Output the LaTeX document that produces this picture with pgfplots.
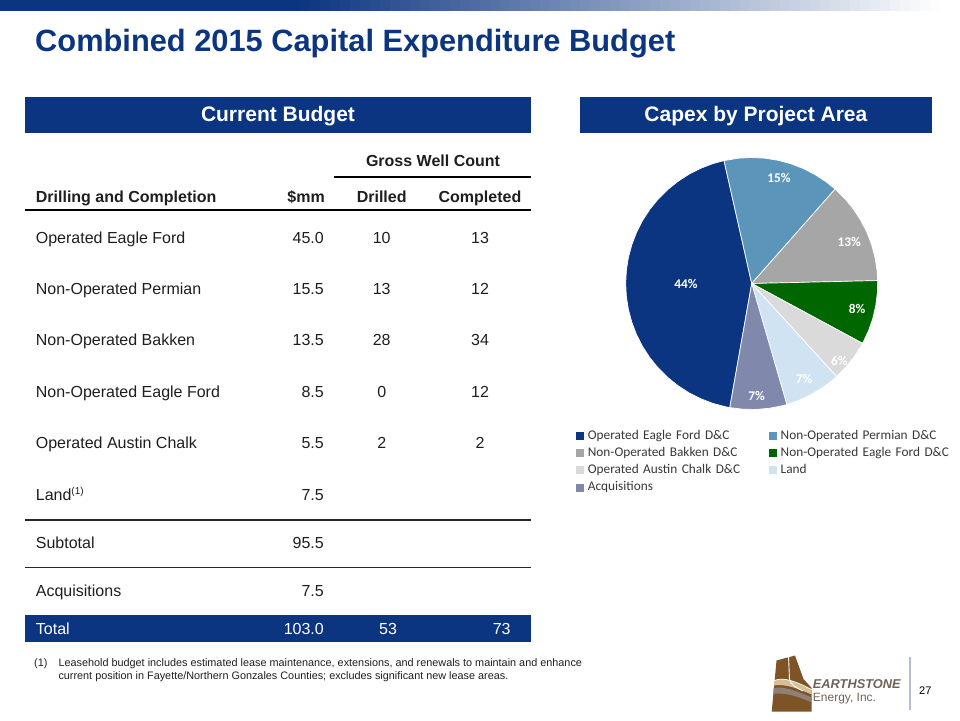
\documentclass[border=0pt]{standalone}
\usepackage{pgfplots}
\pgfplotsset{compat=1.18}
\usepgfplotslibrary{polar}
\usepackage{fontspec}
\setmainfont{Liberation Sans}
\newfontfamily\carlito{Carlito}
\definecolor{navy}{RGB}{11,53,128}
\definecolor{cperm}{RGB}{91,150,186}
\definecolor{cbak}{RGB}{166,166,166}
\definecolor{cgreen}{RGB}{0,102,0}
\definecolor{caus}{RGB}{218,218,218}
\definecolor{cland}{RGB}{208,227,243}
\definecolor{cacq}{RGB}{128,137,172}
\definecolor{tbltext}{RGB}{30,30,30}
\definecolor{legtext}{RGB}{55,55,55}
\definecolor{logobrown}{RGB}{125,84,40}
\definecolor{logotan}{RGB}{216,190,148}
\definecolor{logogray}{RGB}{142,128,116}
\definecolor{logotext}{RGB}{110,98,90}
\definecolor{sepline}{RGB}{184,188,208}
\newcommand{\fs}[1]{\fontsize{#1}{#1}\selectfont}
\begin{document}
\begin{tikzpicture}
\useasboundingbox (0pt,0pt) rectangle (960pt,-720pt);
\begin{scope}[x=1pt,y=-1pt,
  tl/.style={anchor=base west, inner sep=0pt, text=tbltext, font=\fs{16}},
  tr/.style={anchor=base east, inner sep=0pt, text=tbltext, font=\fs{16}},
  tc/.style={anchor=base, inner sep=0pt, text=tbltext, font=\fs{16}}]
% top bar (solid, then fading to white)
\fill[navy] (0,0) rectangle (300.5,11);
\foreach \i in {0,...,63} {
  \pgfmathsetmacro\p{100-(\i+0.5)*100/64}
  \fill[navy!\p!white] ({300+\i*10},0) rectangle ({300+(\i+1)*10+0.4},11);
}
% title
\node[anchor=base west, inner sep=0pt, text=navy, font=\bfseries\fs{30.8}] at (35,51.7) {Combined 2015 Capital Expenditure Budget};
% header boxes
\fill[navy] (25,96.7) rectangle (531,132.5);
\node[anchor=base, inner sep=0pt, text=white, font=\bfseries\fs{21}] at (278,121.7) {Current Budget};
\fill[navy] (580,96.7) rectangle (931.7,132.5);
\node[anchor=base, inner sep=0pt, text=white, font=\bfseries\fs{21}] at (755.9,121.7) {Capex by Project Area};
% table header
\node[tc, font=\bfseries\fs{16}] at (433,166) {Gross Well Count};
\draw[black, line width=1.3pt] (334,177) -- (531,177);
\node[tl, font=\bfseries\fs{16}] at (35.7,202) {Drilling and Completion};
\node[tr, font=\bfseries\fs{16}] at (325,202) {\$mm};
\node[tc, font=\bfseries\fs{16}] at (381.7,202) {Drilled};
\node[tc, font=\bfseries\fs{16}] at (480,202) {Completed};
\draw[black, line width=1.5pt] (25,210) -- (531,210);
% rows
\node[tl] at (35.7,243) {Operated Eagle Ford};     \node[tr] at (324,243) {45.0}; \node[tc] at (381.7,243) {10}; \node[tc] at (480,243) {13};
\node[tl] at (35.7,294.4) {Non-Operated Permian};  \node[tr] at (324,294.4) {15.5}; \node[tc] at (381.7,294.4) {13}; \node[tc] at (480,294.4) {12};
\node[tl] at (35.7,345.8) {Non-Operated Bakken};   \node[tr] at (324,345.8) {13.5}; \node[tc] at (381.7,345.8) {28}; \node[tc] at (480,345.8) {34};
\node[tl] at (35.7,397.2) {Non-Operated Eagle Ford}; \node[tr] at (324,397.2) {8.5}; \node[tc] at (381.7,397.2) {0}; \node[tc] at (480,397.2) {12};
\node[tl] at (35.7,448.6) {Operated Austin Chalk}; \node[tr] at (324,448.6) {5.5}; \node[tc] at (381.7,448.6) {2}; \node[tc] at (480,448.6) {2};
\node[tl] at (35.7,500) {Land{\fs{10}\raisebox{6pt}{(1)}}}; \node[tr] at (324,500) {7.5};
\draw[black!85, line width=1.3pt] (25,520) -- (531,520);
\node[tl] at (35.7,548.3) {Subtotal}; \node[tr] at (324,548.3) {95.5};
\draw[black!85, line width=1.3pt] (25,567.3) -- (531,567.3);
\node[tl] at (35.7,596.7) {Acquisitions}; \node[tr] at (324,596.7) {7.5};
\fill[navy] (25,615) rectangle (531,642);
\node[tl, text=white] at (35.7,634.5) {Total}; \node[tr, text=white] at (324,634.5) {103.0};
\node[tc, text=white] at (388,634.5) {53}; \node[tc, text=white] at (501.7,634.5) {73};
% footnote
\node[anchor=base west, inner sep=0pt, text=tbltext, font=\fs{10.85}] at (34,666) {(1)};
\node[anchor=base west, inner sep=0pt, text=tbltext, font=\fs{10.85}] at (58.3,666) {Leasehold budget includes estimated lease maintenance, extensions, and renewals to maintain and enhance};
\node[anchor=base west, inner sep=0pt, text=tbltext, font=\fs{10.85}] at (58.3,679.5) {current position in Fayette/Northern Gonzales Counties; excludes significant new lease areas.};
% logo
\fill[logobrown] (771.7,711.7) -- (776.5,660.5) -- (795,655.5) -- (803.5,679) -- (811.7,688) -- (811.7,711.7) -- cycle;
\fill[logotan] (774.3,680.5) .. controls (784,676.5) and (797,682) .. (811.7,689.5) -- (811.7,694.5) .. controls (797,688) and (784,683.5) .. (773.9,685.5) -- cycle;
\fill[logogray] (773.7,688) .. controls (784,686) and (797,691) .. (811.7,697.5) -- (811.7,702.5) .. controls (797,696) and (784,692) .. (773.2,694) -- cycle;
\draw[white, line width=0.9pt] (788.5,656.5) -- (789.5,679) .. controls (790,684) and (795,687) .. (803,691);
\draw[white, line width=0.7pt] (774.3,680.5) .. controls (784,676.5) and (797,682) .. (811.7,689.5);
\node[anchor=base west, inner sep=0pt, text=logotext, font=\bfseries\itshape\fs{12.8}] at (812.7,688.3) {EARTHSTONE};
\node[anchor=base west, inner sep=0pt, text=logotext, font=\fs{12}] at (812.7,701.7) {Energy, Inc.};
\draw[sepline, line width=1.5pt] (910,656.7) -- (910,710);
\node[anchor=base west, inner sep=0pt, text=black, font=\fs{11}] at (919,694.3) {27};
\end{scope}

% Pie: values ($mm) 45.0, 15.5, 13.5, 8.5, 5.5, 7.5, 7.5 of 103.0; slice angle = value/103*360 deg
\begin{axis}[at={(751.7pt,-283.5pt)}, anchor=origin,
  width=252pt, height=252pt, scale only axis, hide axis,
  xmin=-1, xmax=1, ymin=-1, ymax=1, data cs=polar, clip=false,
  legend columns=2, legend cell align=left,
  legend image code/.code={\fill[#1,draw=none] (0pt,-4pt) rectangle (8pt,4pt); \path (11.5pt,0pt);},
  legend style={at={(-0.1972,-0.0802)}, anchor=north west, draw=none, fill=none,
    inner sep=0pt, outer sep=0pt, row sep=5.3pt, column sep=0pt,
    font=\carlito\fs{13.3}, text=legtext,
    nodes={inner xsep=0pt, inner ysep=0pt, text height=9.3pt, text depth=2.7pt, text width=181pt}},
  every axis plot/.append style={draw=white, line width=0.7pt, line join=round}]
\addplot[fill=navy] coordinates {(0,0) (102.70,1) (108,1) (114,1) (120,1) (126,1) (132,1) (138,1) (144,1) (150,1) (156,1) (162,1) (168,1) (174,1) (180,1) (186,1) (192,1) (198,1) (204,1) (210,1) (216,1) (222,1) (228,1) (234,1) (240,1) (246,1) (252,1) (258,1) (259.98,1)} -- cycle;
\addlegendentry{Operated Eagle Ford D\&C}
\addplot[fill=cperm] coordinates {(0,0) (48.53,1) (54,1) (60,1) (66,1) (72,1) (78,1) (84,1) (90,1) (96,1) (102.70,1)} -- cycle;
\addlegendentry{Non-Operated Permian D\&C}
\addplot[fill=cbak] coordinates {(0,0) (1.34,1) (6,1) (12,1) (18,1) (24,1) (30,1) (36,1) (42,1) (48.53,1)} -- cycle;
\addlegendentry{Non-Operated Bakken D\&C}
\addplot[fill=cgreen] coordinates {(0,0) (-28.37,1) (-22,1) (-16,1) (-10,1) (-4,1) (1.34,1)} -- cycle;
\addlegendentry{Non-Operated Eagle Ford D\&C}
\addplot[fill=caus] coordinates {(0,0) (-47.59,1) (-42,1) (-36,1) (-30,1) (-28.37,1)} -- cycle;
\addlegendentry{Operated Austin Chalk D\&C}
\addplot[fill=cland] coordinates {(0,0) (-73.81,1) (-68,1) (-62,1) (-56,1) (-50,1) (-47.59,1)} -- cycle;
\addlegendentry{Land}
\addplot[fill=cacq] coordinates {(0,0) (-100.02,1) (-94,1) (-88,1) (-82,1) (-76,1) (-73.81,1)} -- cycle;
\addlegendentry{Acquisitions}
\end{axis}

\begin{scope}[x=1pt,y=-1pt, pl/.style={inner sep=0pt, text=white, font=\carlito\bfseries\fs{13.3}}]
\node[pl] at (779,177.7) {15\%};
\node[pl] at (849.3,241.7) {13\%};
\node[pl] at (686,284) {44\%};
\node[pl] at (857,309.3) {8\%};
\node[pl] at (839.3,360.7) {6\%};
\node[pl] at (804,379.3) {7\%};
\node[pl] at (756.7,396) {7\%};
\end{scope}
\end{tikzpicture}
\end{document}
